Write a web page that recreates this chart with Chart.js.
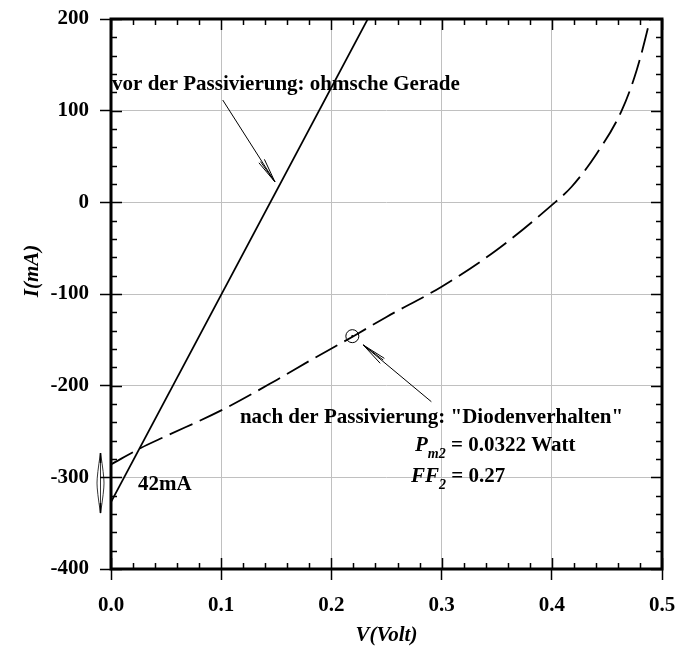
<!DOCTYPE html>
<html>
<head>
<meta charset="utf-8">
<script src="https://cdn.jsdelivr.net/npm/chart.js@4"></script>
<style>
  html, body { margin: 0; padding: 0; background: #fff; }
  #wrap { width: 675px; height: 655px; position: relative; }
</style>
</head>
<body>
<div id="wrap"><canvas id="c" width="675" height="655"></canvas></div>
<script>
// ---- data ----
const xTickValues = [0, 0.1, 0.2, 0.3, 0.4, 0.5];
const xTickLabels = ['0.0', '0.1', '0.2', '0.3', '0.4', '0.5'];
const yTickValues = [-400, -300, -200, -100, 0, 100, 200];
const yTickLabels = ['-400', '-300', '-200', '-100', '0', '100', '200'];

// before passivation: ohmic straight line
const ohmV = [0, 0.233];
const ohmI = [-327, 200];

// after passivation: diode-like curve
const diodeV = [0, 0.027, 0.05, 0.1, 0.15, 0.1815, 0.22, 0.25, 0.3, 0.35, 0.4, 0.418, 0.4407, 0.4634, 0.477, 0.489, 0.495];
const diodeI = [-286, -268, -255, -227, -194, -172, -146, -125, -92, -52, -3, 17, 53, 100, 144, 199, 232];

// maximum power point marker
const mppV = [0.219];
const mppI = [-146];

const SERIF = '"Liberation Serif", "Times New Roman", serif';

function pts(xs, ys) { return xs.map((x, i) => ({ x: x, y: ys[i] })); }

const framePlugin = {
  id: 'frame',
  afterDraw(chart) {
    const { ctx, chartArea: a, scales } = chart;
    const sx = scales.x, sy = scales.y;
    ctx.save();
    ctx.strokeStyle = '#000';
    ctx.fillStyle = '#000';

    // inside ticks, all four sides
    ctx.lineWidth = 1.5;
    ctx.beginPath();
    for (let k = 0; k <= 25; k++) {
      const v = k * 0.02;
      const px = Math.round(sx.getPixelForValue(v)) + 0.5;
      const len = (k % 5 === 0) ? 11 : 6;
      ctx.moveTo(px, a.bottom); ctx.lineTo(px, a.bottom - len);
      ctx.moveTo(px, a.top); ctx.lineTo(px, a.top + len);
    }
    for (let k = 0; k <= 30; k++) {
      const v = -400 + k * 20;
      const py = Math.round(sy.getPixelForValue(v)) + 0.5;
      const len = (k % 5 === 0) ? 11 : 6;
      ctx.moveTo(a.left, py); ctx.lineTo(a.left + len, py);
      ctx.moveTo(a.right, py); ctx.lineTo(a.right - len, py);
    }
    ctx.stroke();

    // frame
    ctx.lineWidth = 3;
    ctx.strokeRect(a.left, a.top, a.right - a.left, a.bottom - a.top);

    // centre dot of the MPP marker
    const mx = sx.getPixelForValue(mppV[0]), my = sy.getPixelForValue(mppI[0]);
    ctx.beginPath(); ctx.arc(mx, my, 1.1, 0, Math.PI * 2); ctx.fill();

    // arrows
    function arrow(v1, i1, v2, i2) {
      const x1 = sx.getPixelForValue(v1), y1 = sy.getPixelForValue(i1);
      const x2 = sx.getPixelForValue(v2), y2 = sy.getPixelForValue(i2);
      ctx.lineWidth = 1;
      ctx.beginPath();
      ctx.moveTo(x1, y1); ctx.lineTo(x2, y2);
      const ang = Math.atan2(y1 - y2, x1 - x2);
      [-0.13, 0.13, -0.05].forEach(d => {
        ctx.moveTo(x2, y2);
        ctx.lineTo(x2 + 25 * Math.cos(ang + d), y2 + 25 * Math.sin(ang + d));
      });
      ctx.stroke();
    }
    arrow(0.1014, 111.6, 0.1488, 22.2);
    arrow(0.2907, -217.5, 0.2289, -155.6);

    // 42 mA double arrow (left of the axis)
    const ax = a.left - 10.5;
    const yt = sy.getPixelForValue(-273.5), yb = sy.getPixelForValue(-339);
    const ym = (yt + yb) / 2;
    ctx.lineWidth = 1.6;
    ctx.beginPath(); ctx.moveTo(ax, yt); ctx.lineTo(ax, yt + 10); ctx.moveTo(ax, yb); ctx.lineTo(ax, yb - 10); ctx.stroke();
    ctx.lineWidth = 0.8;
    ctx.beginPath();
    ctx.moveTo(ax, yt); ctx.quadraticCurveTo(ax - 3.5, ym - 8, ax - 3.5, ym); ctx.quadraticCurveTo(ax - 3.5, ym + 8, ax, yb);
    ctx.moveTo(ax, yt); ctx.quadraticCurveTo(ax + 3.5, ym - 8, ax + 3.5, ym); ctx.quadraticCurveTo(ax + 3.5, ym + 8, ax, yb);
    ctx.moveTo(ax, yt); ctx.lineTo(ax, yb);
    ctx.stroke();

    // texts
    const B = 'bold 21px ' + SERIF, BI = 'italic bold 21px ' + SERIF, BIs = 'italic bold 14px ' + SERIF;
    ctx.textBaseline = 'alphabetic';
    ctx.textAlign = 'left';
    function at(v, i) { return [sx.getPixelForValue(v), sy.getPixelForValue(i)]; }
    let p;
    ctx.font = B;
    p = at(0.001, 122.5); ctx.fillText('vor der Passivierung: ohmsche Gerade', p[0], p[1]);
    p = at(0.117, -240.7); ctx.fillText('nach der Passivierung: "Diodenverhalten"', p[0], p[1]);
    p = at(0.0245, -313.8); ctx.fillText('42mA', p[0], p[1]);

    // P_m2 = 0.0322 Watt
    p = at(0.2759, -271.3);
    let x = p[0];
    ctx.font = BI; ctx.fillText('P', x, p[1]); x += ctx.measureText('P').width;
    ctx.font = BIs; ctx.fillText('m2', x, p[1] + 7); x += ctx.measureText('m2').width;
    ctx.font = B; ctx.fillText(' = 0.0322 Watt', x, p[1]);

    // FF_2 = 0.27
    p = at(0.2722, -304.8);
    x = p[0];
    ctx.font = BI; ctx.fillText('FF', x, p[1]); x += ctx.measureText('FF').width;
    ctx.font = BIs; ctx.fillText('2', x, p[1] + 7); x += ctx.measureText('2').width;
    ctx.font = B; ctx.fillText(' = 0.27', x, p[1]);

    // axis titles
    ctx.font = BI;
    ctx.textAlign = 'center';
    ctx.textBaseline = 'middle';
    ctx.fillText('V(Volt)', (a.left + a.right) / 2, 636);
    ctx.translate(33, 271);
    ctx.rotate(-Math.PI / 2);
    ctx.fillText('I(mA)', 0, 0);
    ctx.restore();
  }
};

new Chart(document.getElementById('c'), {
  type: 'line',
  data: {
    datasets: [
      {
        label: 'vor der Passivierung',
        data: pts(ohmV, ohmI),
        borderColor: '#000', borderWidth: 1.7,
        pointRadius: 0, fill: false, tension: 0
      },
      {
        label: 'nach der Passivierung',
        data: pts(diodeV, diodeI),
        borderColor: '#000', borderWidth: 1.8, borderDash: [25, 8],
        pointRadius: 0, fill: false, cubicInterpolationMode: 'monotone'
      },
      {
        label: 'MPP',
        data: pts(mppV, mppI),
        showLine: false,
        pointRadius: 6.5, pointStyle: 'circle',
        pointBorderColor: '#000', pointBackgroundColor: 'rgba(0,0,0,0)', pointBorderWidth: 1
      }
    ]
  },
  options: {
    responsive: false,
    animation: false,
    events: [],
    layout: { padding: { left: 0, top: 19, right: 13, bottom: 0 } },
    plugins: { legend: { display: false }, tooltip: { enabled: false } },
    scales: {
      x: {
        type: 'linear', min: 0, max: 0.5,
        afterBuildTicks: s => { s.ticks = xTickValues.map(v => ({ value: v })); },
        afterFit: s => { s.height = 86; s.paddingLeft = 0; s.paddingRight = 0; },
        ticks: {
          callback: (v, i) => xTickLabels[xTickValues.indexOf(Math.round(v * 10) / 10)],
          font: { family: SERIF, size: 21, weight: 'bold' }, color: '#000',
          padding: 13, maxRotation: 0, autoSkip: false
        },
        grid: { color: '#c0c0c0', lineWidth: 1, tickColor: '#000', tickLength: 11, tickWidth: 1.5 },
        border: { display: false }
      },
      y: {
        type: 'linear', min: -400, max: 200,
        afterBuildTicks: s => { s.ticks = yTickValues.map(v => ({ value: v })); },
        afterFit: s => { s.width = 111; s.paddingTop = 0; s.paddingBottom = 0; },
        ticks: {
          callback: (v) => yTickLabels[yTickValues.indexOf(Math.round(v))],
          font: { family: SERIF, size: 21, weight: 'bold' }, color: '#000',
          padding: 11, autoSkip: false
        },
        grid: { color: '#c0c0c0', lineWidth: 1, tickColor: '#000', tickLength: 11, tickWidth: 1.5 },
        border: { display: false }
      }
    }
  },
  plugins: [framePlugin]
});
</script>
</body>
</html>
